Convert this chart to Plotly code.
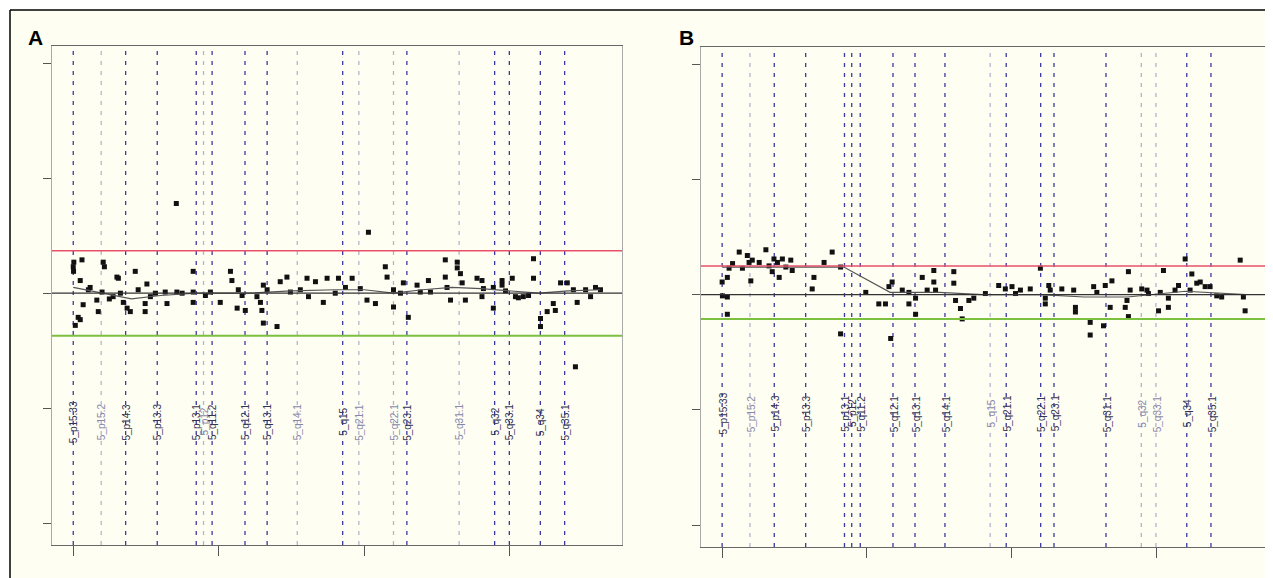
import plotly.graph_objects as go

# ---------------- data ----------------
band_labels = ["5_p15.33", "5_p15.2", "5_p14.3", "5_p13.3", "5_p13.1", "5_p12", "5_q11.2",
               "5_q12.1", "5_q13.1", "5_q14.1", "5_q15", "5_q21.1", "5_q22.1", "5_q23.1",
               "5_q31.1", "5_q32", "5_q33.1", "5_q34", "5_q35.1"]
band_pos = [0, 9.6, 18.0, 28.85, 42.25, 44.75, 47.7, 59.0, 66.6, 76.95, 92.55, 98.1,
            110.0, 114.6, 132.55, 144.75, 149.8, 160.45, 168.8]
light_a = [1, 5, 9, 11, 12, 14]
light_b = [1, 10, 15, 16]

a_x = [0, 0.1, 0.2, 3.0, 2.4, 5.8, 5.2, 1.7, 2.4, 0.7, 3.4, 8.6, 8.1, 9.9, 10.3, 10.7, 15.0, 15.5,
       21.3, 25.3, 16.2, 17.2, 18.5, 19.6, 22.3, 24.7, 24.7, 31.6, 32.2, 35.6, 37.4, 41.2, 41.2,
       41.2, 50.5, 54.0, 54.5, 56.7, 58.0, 56.3, 59.1, 63.1, 64.3, 64.8, 65.3, 66.6, 65.3, 70.0,
       71.1, 73.4, 80.3, 80.8, 83.2, 85.9, 87.2, 35.4, 101.4, 91.1, 95.8, 98.6, 100.9, 103.8,
       107.2, 107.8, 110.0, 112.4, 113.4, 115.1, 110.0, 118.1, 122.0, 122.7, 127.8, 127.8, 128.4,
       129.6, 131.9, 131.9, 133.0, 133.6, 134.7, 138.7, 140.4, 140.9, 140.4, 144.3, 144.3, 147.3,
       147.3, 150.8, 152.9, 154.6, 156.4, 158.1, 158.1, 160.5, 160.5, 162.8, 164.9, 165.6, 167.4,
       169.7, 171.8, 173.1, 179.4, 181.1, 172.5, 12.4, 13.7, 26.5, 28.2, 45.4, 47.1, 74.6, 78.0,
       90.0, 93.5, 119.2, 148.5, 151.9, 176.0, 177.7]
a_y = [0.23, 0.19, 0.27, 0.29, 0.11, 0.05, 0.03, -0.21, -0.23, -0.28, -0.10, -0.16, -0.06, 0.01,
       0.27, 0.23, 0.14, 0.13, 0.19, 0.08, 0.0, -0.08, -0.13, -0.16, 0.03, -0.09, -0.16, 0.01,
       -0.09, 0.01, 0.0, 0.19, 0.01, -0.08, -0.08, 0.19, 0.11, 0.03, -0.02, -0.13, -0.15, -0.03,
       -0.08, -0.15, 0.07, 0.03, -0.26, -0.29, 0.10, 0.14, 0.13, -0.03, 0.10, -0.08, 0.13, 0.78,
       0.53, 0.13, 0.13, 0.04, -0.06, -0.09, 0.23, 0.14, 0.03, 0.0, 0.09, -0.21, -0.12, 0.07, 0.11,
       0.01, 0.14, 0.29, 0.05, -0.06, 0.27, 0.22, 0.17, 0.09, -0.06, 0.13, 0.11, 0.04, -0.03, 0.05,
       -0.13, 0.11, 0.07, 0.13, -0.04, -0.03, -0.02, 0.30, 0.13, -0.22, -0.29, -0.16, -0.09, -0.15,
       0.09, 0.09, 0.03, -0.08, 0.05, 0.03, -0.64, -0.05, -0.03, -0.03, 0.0, -0.02, 0.01, 0.01,
       0.03, 0.0, 0.05, 0.01, 0.02, -0.03, 0.03, -0.03]

b_x = [0.0, 0.1, 1.8, 1.8, 1.8, 2.4, 3.6, 5.9, 7.0, 8.7, 9.3, 9.9, 10.4, 12.8, 15.1, 16.2, 17.3,
       17.9, 19.1, 19.7, 20.8, 22.0, 23.7, 24.2, 31.7, 31.1, 35.2, 38.0, 40.9, 40.9, 49.6, 54.1,
       56.4, 57.6, 58.7, 58.2, 62.2, 64.5, 64.5, 66.8, 66.8, 69.1, 70.8, 73.1, 73.1, 73.7, 80.0,
       80.0, 80.6, 82.3, 82.9, 85.2, 86.9, 90.9, 95.5, 97.8, 100.1, 101.3, 103.0, 106.4, 109.9,
       111.6, 111.6, 112.8, 113.3, 117.3, 121.4, 122.0, 122.0, 127.1, 127.1, 128.3, 129.4, 131.7,
       132.3, 134.0, 134.6, 139.2, 139.8, 140.3, 140.9, 140.3, 144.9, 146.7, 147.2, 150.7, 151.3,
       152.4, 154.1, 154.1, 156.4, 157.6, 159.9, 161.6, 162.2, 163.9, 165.1, 166.8, 168.5, 170.8,
       172.5, 178.9, 180.0, 180.6]
b_y = [0.11, -0.01, -0.02, -0.17, 0.15, 0.23, 0.27, 0.37, 0.23, 0.34, 0.28, 0.12, 0.30, 0.28,
       0.39, 0.25, 0.20, 0.31, 0.28, 0.15, 0.31, 0.24, 0.30, 0.21, 0.15, 0.05, 0.28, 0.37, 0.24,
       -0.34, 0.02, -0.08, -0.08, 0.07, 0.11, -0.38, 0.04, 0.02, -0.08, -0.03, -0.17, 0.15, 0.04,
       0.21, 0.11, 0.04, 0.20, 0.10, -0.05, -0.12, -0.21, -0.05, -0.03, 0.01, 0.08, 0.05, 0.07,
       0.01, 0.04, 0.05, 0.23, -0.03, -0.08, 0.08, 0.04, 0.05, 0.04, -0.11, -0.15, -0.24, -0.35,
       0.07, 0.02, -0.27, 0.08, -0.11, 0.12, -0.11, -0.05, 0.20, 0.04, -0.19, 0.05, 0.04, 0.01,
       -0.14, 0.02, 0.21, -0.03, -0.11, 0.04, 0.08, 0.31, 0.04, 0.18, 0.10, 0.11, 0.07, 0.07,
       -0.01, -0.02, 0.30, -0.02, -0.14]

seg_a_x = [0, 10, 20, 30, 42, 48, 60, 75, 90, 100, 110, 120, 130, 140, 150, 160, 170, 181]
seg_a_y = [0.05, 0.0, -0.05, -0.02, 0.0, 0.0, 0.0, 0.02, 0.03, 0.03, 0.0, 0.03, 0.05, 0.04,
           0.02, 0.0, 0.02, 0.03]
seg_b_x = [0, 42, 58, 75, 90, 110, 125, 140, 160, 181]
seg_b_y = [0.24, 0.24, 0.02, 0.02, 0.0, 0.0, -0.02, -0.02, 0.03, 0.0]

thr_a = [0.37, -0.37]
thr_b = [0.25, -0.21]
x_ticks = [0, 50, 100, 150]
y_ticks = [-2, -1, 0, 1, 2]

# ---------------- figure ----------------
OFF = 8                      # page body margin
W, H = 1273 - OFF, 578 - OFF
CREAM = "#fefef3"
fig = go.Figure()


def fx(px):
    return (px - OFF) / W


def fy(py):
    return 1 - (py - OFF) / H


panels = [
    dict(xa="x", ya="y", px=(52, 622), py=(46, 545), pts=(a_x, a_y), seg=(seg_a_x, seg_a_y),
         thr=thr_a, light=light_a, label="A", lab_px=(35, 37), laby=-1.12),
    dict(xa="x2", ya="y2", px=(701, 1268), py=(47, 547), pts=(b_x, b_y), seg=(seg_b_x, seg_b_y),
         thr=thr_b, light=light_b, label="B", lab_px=(686, 37), laby=-1.03),
]

shapes = [
    dict(type="rect", xref="paper", yref="paper", x0=fx(10), x1=1.0, y0=0.0, y1=fy(10),
         line=dict(width=0), fillcolor=CREAM, layer="below"),
    dict(type="line", xref="paper", yref="paper", x0=fx(10), x1=1.0, y0=fy(10), y1=fy(10),
         line=dict(color="black", width=1.5)),
    dict(type="line", xref="paper", yref="paper", x0=fx(10), x1=fx(10), y0=0.0, y1=fy(10),
         line=dict(color="black", width=1.5)),
]
annotations = []

for i, p in enumerate(panels):
    xa, ya = p["xa"], p["ya"]
    xname = "xaxis" if i == 0 else "xaxis2"
    yname = "yaxis" if i == 0 else "yaxis2"
    x0, x1 = p["px"]
    y0, y1 = p["py"]
    fig.update_layout(**{
        xname: dict(domain=[fx(x0), fx(x1)], range=[-7.3, 188.5], showgrid=False, zeroline=False,
                    tickvals=x_ticks, ticks="outside", ticklen=10, tickcolor="#555",
                    showticklabels=False, showline=True, linecolor="#666", mirror=True,
                    anchor=ya),
        yname: dict(domain=[fy(y1), fy(y0)], range=[-2.19, 2.15], showgrid=False,
                    zeroline=False, tickvals=y_ticks, ticks="outside", ticklen=8,
                    tickcolor="#555", showticklabels=False, showline=True, linecolor="#aaa",
                    mirror=True, anchor=xa),
    })
    # band lines and labels
    for j, (bp, bl) in enumerate(zip(band_pos, band_labels)):
        col = "#b4b4d2" if j in p["light"] else "#3a3aa0"
        shapes.append(dict(type="line", xref=xa, yref=ya + " domain", x0=bp, x1=bp, y0=0, y1=1,
                           line=dict(color=col, width=1.3, dash="4px,6px"), layer="below"))
        annotations.append(dict(x=bp, y=p["laby"], xref=xa, yref=ya, text=bl, showarrow=False,
                                textangle=-90, xshift=1, xanchor="center", yanchor="middle",
                                font=dict(family="Arial", size=10,
                                          color="#8888aa" if j in p["light"] else "#333355")))
    # thresholds and zero
    shapes.append(dict(type="line", xref=xa + " domain", yref=ya, x0=0, x1=1, y0=p["thr"][0],
                       y1=p["thr"][0], line=dict(color="#e8506a", width=1.5)))
    shapes.append(dict(type="line", xref=xa + " domain", yref=ya, x0=0, x1=1, y0=p["thr"][1],
                       y1=p["thr"][1], line=dict(color="#7cc040", width=2)))
    shapes.append(dict(type="line", xref=xa + " domain", yref=ya, x0=0, x1=1, y0=0, y1=0,
                       line=dict(color="#333", width=1.3)))
    # points
    fig.add_trace(go.Scatter(x=p["pts"][0], y=p["pts"][1], mode="markers", xaxis=xa, yaxis=ya,
                             marker=dict(symbol="square", size=5, color="#111"),
                             showlegend=False, hoverinfo="skip"))
    # segment line
    fig.add_trace(go.Scatter(x=p["seg"][0], y=p["seg"][1], mode="lines", xaxis=xa, yaxis=ya,
                             line=dict(color="#555", width=1.2), showlegend=False,
                             hoverinfo="skip"))
    annotations.append(dict(x=fx(p["lab_px"][0]), y=fy(p["lab_px"][1]), xref="paper",
                            yref="paper", text="<b>" + p["label"] + "</b>", showarrow=False,
                            xanchor="center", yanchor="middle",
                            font=dict(family="Arial", size=21, color="black")))

fig.update_layout(width=W, height=H, margin=dict(l=0, r=0, t=0, b=0),
                  paper_bgcolor="white", plot_bgcolor=CREAM, shapes=shapes,
                  annotations=annotations, showlegend=False)

fig.write_html("out.html")
